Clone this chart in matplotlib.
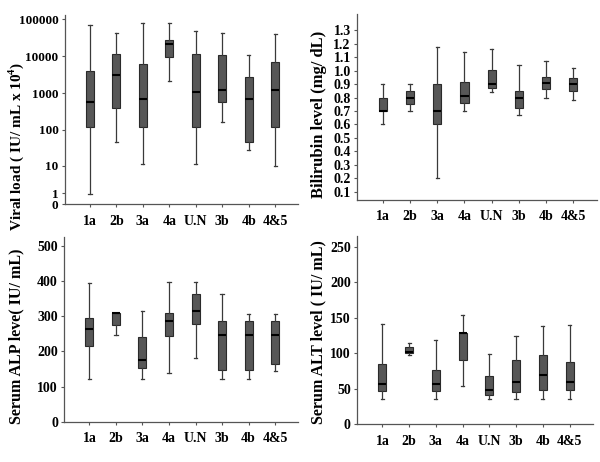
import numpy as np
import matplotlib
matplotlib.use('Agg')
import matplotlib.pyplot as plt

genotipos = ['1a', '2b', '3a', '4a', 'U.N', '3b', '4b', '4&5']

# viral load (IU/mL x 10^4)
vl_low = [0.9, 48, 11.5, 2100, 11, 161, 28, 9.7]
vl_q1 = [122, 395, 122, 9300, 122, 575, 47, 122]
vl_med = [560, 3100, 690, 21500, 1040, 1200, 710, 1200]
vl_q3 = [3900, 11500, 6100, 27500, 11700, 10500, 2750, 6900]
vl_high = [68000, 42000, 80000, 79000, 47500, 42000, 10500, 40000]

# bilirrubina (mg/dL)
bil_low = [0.60, 0.70, 0.20, 0.70, 0.84, 0.67, 0.80, 0.78]
bil_q1 = [0.70, 0.75, 0.60, 0.76, 0.87, 0.725, 0.86, 0.85]
bil_med = [0.70, 0.80, 0.70, 0.81, 0.90, 0.80, 0.91, 0.90]
bil_q3 = [0.80, 0.85, 0.90, 0.915, 1.005, 0.85, 0.95, 0.945]
bil_high = [0.90, 0.90, 1.175, 1.135, 1.16, 1.04, 1.07, 1.02]

# ALP (IU/mL)
alp_low = [123, 246, 123, 139, 182, 123, 123, 144]
alp_q1 = [215, 276, 154, 244, 277, 147, 147, 165]
alp_med = [265, 308, 175, 286, 314, 246, 246, 246]
alp_q3 = [294, 308, 241, 310, 362, 285, 285, 285]
alp_high = [395, 308, 314, 398, 398, 362, 307, 307]

# ALT (IU/mL)
alt_low = [35, 98, 35, 54, 35, 35, 35, 35.6]
alt_q1 = [46, 100, 46, 90, 41, 45.5, 48.3, 48.3]
alt_med = [56, 102, 56, 129, 47.4, 59.6, 69.5, 58.7]
alt_q3 = [84.5, 108, 76.5, 129, 67.6, 90, 97.6, 87.8]
alt_high = [141, 115, 119, 154, 99, 123.5, 138, 139]

plt.rcParams['font.family'] = ['Liberation Serif', 'DejaVu Serif']
plt.rcParams['font.weight'] = 'bold'
plt.rcParams['mathtext.fontset'] = 'custom'
plt.rcParams['mathtext.bf'] = 'Liberation Serif:bold'


def estadisticas(low, q1, med, q3, high):
    return [dict(whislo=a, q1=b, med=c, q3=d, whishi=e, label=g)
            for a, b, c, d, e, g in zip(low, q1, med, q3, high, genotipos)]


def dibujar(ax, stats):
    ax.bxp(stats, positions=range(1, len(stats) + 1), widths=0.3,
           showfliers=False, patch_artist=True,
           boxprops=dict(facecolor='#575757', edgecolor='#2a2a2a', linewidth=0.8),
           medianprops=dict(color='black', linewidth=1.5),
           whiskerprops=dict(color='#3a3a3a', linewidth=0.9),
           capprops=dict(color='#3a3a3a', linewidth=0.9),
           capwidths=0.12)
    ax.set_xlim(0.05, 8.87)
    ax.spines['top'].set_visible(False)
    ax.spines['right'].set_visible(False)
    for s in ['left', 'bottom']:
        ax.spines[s].set_color('#555555')
        ax.spines[s].set_linewidth(0.9)
    ax.tick_params(axis='both', length=2.5, width=0.8, color='#555555', pad=2)
    ax.tick_params(axis='x', labelsize=10, pad=5)
    ax.tick_params(axis='y', labelsize=10)


fig = plt.figure(figsize=(6, 4.62), dpi=100)

ax1 = fig.add_axes([0.108, 0.558, 0.389, 0.41])
ax1.set_yscale('function', functions=(lambda x: np.log10(np.maximum(x + 1, 1e-9)),
                                      lambda y: 10 ** y - 1))
dibujar(ax1, estadisticas(vl_low, vl_q1, vl_med, vl_q3, vl_high))
ax1.set_ylim(0, 1.3e5)
ax1.set_yticks([0, 1, 10, 100, 1000, 10000, 100000])
ax1.set_yticklabels(['0', '1', '10', '100', '1000', '10000', '100000'])
ax1.yaxis.set_minor_locator(matplotlib.ticker.NullLocator())
ax1.tick_params(axis='y', labelsize=9.5)

ax2 = fig.add_axes([0.595, 0.567, 0.400, 0.403])
dibujar(ax2, estadisticas(bil_low, bil_q1, bil_med, bil_q3, bil_high))
ax2.set_ylim(0.04, 1.42)
ax2.set_yticks(np.round(np.arange(0.1, 1.31, 0.1), 1))
ax2.set_yticklabels([f'{v:.1f}' for v in np.arange(0.1, 1.31, 0.1)])

ax3 = fig.add_axes([0.107, 0.087, 0.390, 0.40])
dibujar(ax3, estadisticas(alp_low, alp_q1, alp_med, alp_q3, alp_high))
ax3.set_ylim(0, 525)
ax3.set_yticks([0, 100, 200, 300, 400, 500])

ax4 = fig.add_axes([0.595, 0.082, 0.393, 0.407])
dibujar(ax4, estadisticas(alt_low, alt_q1, alt_med, alt_q3, alt_high))
ax4.set_ylim(0, 265)
ax4.set_yticks([0, 50, 100, 150, 200, 250])

for ax in [ax1, ax2, ax3, ax4]:
    for t in ax.get_xticklabels() + ax.get_yticklabels():
        t.set_fontweight('bold')

# titulos de los ejes y
fig.text(0.027, 0.682, 'Viral load ( IU/ mL x 10$^{\\mathbf{4}}$)', rotation=90,
         ha='center', va='center', fontsize=11, fontweight='bold')
fig.text(0.531, 0.753, 'Bilirubin level (mg/ dL)', rotation=90,
         ha='center', va='center', fontsize=12, fontweight='bold')
fig.text(0.027, 0.273, 'Serum ALP leve( IU/ mL)', rotation=90,
         ha='center', va='center', fontsize=11.5, fontweight='bold')
fig.text(0.531, 0.281, 'Serum ALT level ( IU/ mL)', rotation=90,
         ha='center', va='center', fontsize=11.5, fontweight='bold')

fig.savefig('out.png', dpi=100)
